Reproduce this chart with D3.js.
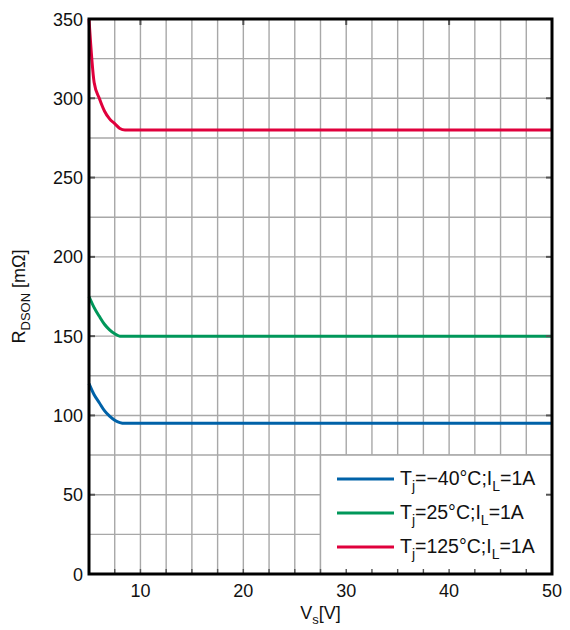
<!DOCTYPE html>
<html>
  <head>
    <meta charset="utf-8">
    <script src="https://d3js.org/d3.v7.min.js"></script>
    <style>
      body { margin: 0; background: #fff; }
      text { font-family: "Liberation Sans", Arial, Helvetica, sans-serif; fill: #111; }
    </style>
  </head>
  <body>
    <script type="text/javascript">
      // supply voltage samples [V]
      var vs = [5, 5.5, 6, 6.5, 7, 7.5, 8, 8.5, 50];
      // RDSON [mOhm] per junction temperature
      var rCold = [120, 113, 108, 103, 99.5, 97, 95.5, 95, 95];
      var rRoom = [175, 168, 162.5, 157.5, 154, 151.5, 150, 150, 150];
      var rHot = [350, 310, 300, 292, 287, 284, 281, 280, 280];
      var temps = ["\u221240\u00B0C", "25\u00B0C", "125\u00B0C"];
      var colors = ["#0062a8", "#00975a", "#e0003c"];
      var xTicks = [10, 20, 30, 40, 50];
      var yTicks = [0, 50, 100, 150, 200, 250, 300, 350];

      var W = 570, H = 630;
      var pL = 89, pR = 552, pT = 19, pB = 574;

      var svg = d3.select("body").append("svg")
        .attr("width", W).attr("height", H);

      var x = d3.scaleLinear().domain([5, 50]).range([pL, pR]);
      var y = d3.scaleLinear().domain([0, 350]).range([pB, pT]);

      // grid every 2.5 V / 25 mOhm
      var xGrid = d3.range(7.5, 50, 2.5);
      var yGrid = d3.range(25, 350, 25);
      svg.append("g").selectAll("line").data(xGrid).enter().append("line")
        .attr("x1", d => x(d)).attr("x2", d => x(d))
        .attr("y1", pT).attr("y2", pB)
        .attr("stroke", "#a8a8a8").attr("stroke-width", 1.4);
      svg.append("g").selectAll("line").data(yGrid).enter().append("line")
        .attr("y1", d => y(d)).attr("y2", d => y(d))
        .attr("x1", pL).attr("x2", pR)
        .attr("stroke", "#a8a8a8").attr("stroke-width", 1.4);

      // curves
      var series = [rCold, rRoom, rHot];
      var line = d3.line()
        .x((d, i) => x(vs[i]))
        .y(d => y(d))
        .curve(d3.curveMonotoneX);
      series.forEach(function (s, k) {
        svg.append("path").datum(s)
          .attr("d", line)
          .attr("fill", "none")
          .attr("stroke", colors[k])
          .attr("stroke-width", 3);
      });

      // legend box sits on the grid (27.5 V .. 50 V, 0 .. 75)
      var lg = svg.append("g");
      lg.append("rect")
        .attr("x", x(27.5)).attr("y", y(75))
        .attr("width", x(50) - x(27.5)).attr("height", y(0) - y(75))
        .attr("fill", "#fff")
        .attr("stroke", "#a8a8a8").attr("stroke-width", 1.4);

      // ticks pointing inward
      var tickCol = "#555";
      svg.append("g").selectAll("line").data(d3.range(7.5, 50, 2.5)).enter().append("line")
        .attr("x1", d => x(d)).attr("x2", d => x(d))
        .attr("y1", pB).attr("y2", pB - 5)
        .attr("stroke", tickCol).attr("stroke-width", 1.4);
      svg.append("g").selectAll("line").data(xTicks).enter().append("line")
        .attr("x1", d => x(d)).attr("x2", d => x(d))
        .attr("y1", pT).attr("y2", pT + 6)
        .attr("stroke", tickCol).attr("stroke-width", 2);
      svg.append("g").selectAll("line").data(yTicks).enter().append("line")
        .attr("y1", d => y(d)).attr("y2", d => y(d))
        .attr("x1", pL).attr("x2", pL + 6)
        .attr("stroke", tickCol).attr("stroke-width", 2);
      svg.append("g").selectAll("line").data(yTicks).enter().append("line")
        .attr("y1", d => y(d)).attr("y2", d => y(d))
        .attr("x1", pR).attr("x2", pR - 6)
        .attr("stroke", tickCol).attr("stroke-width", 2);

      temps.forEach(function (t, k) {
        var ly = 479 + k * 34;
        lg.append("line")
          .attr("x1", 337).attr("x2", 394)
          .attr("y1", ly).attr("y2", ly)
          .attr("stroke", colors[k]).attr("stroke-width", 3);
        var tx = lg.append("text")
          .attr("x", 400).attr("y", ly + 6)
          .attr("font-size", 19.5);
        tx.append("tspan").text("T");
        tx.append("tspan").attr("font-size", 14).attr("dy", 6).text("j");
        tx.append("tspan").attr("dy", -6).text("=" + t + ";I");
        tx.append("tspan").attr("font-size", 14).attr("dy", 6).text("L");
        tx.append("tspan").attr("dy", -6).text("=1A");
      });

      // frame
      svg.append("rect")
        .attr("x", pL).attr("y", pT)
        .attr("width", pR - pL).attr("height", pB - pT)
        .attr("fill", "none").attr("stroke", "#000").attr("stroke-width", 3);

      // tick labels
      svg.append("g").selectAll("text").data(xTicks).enter().append("text")
        .attr("x", d => x(d)).attr("y", 597)
        .attr("text-anchor", "middle").attr("font-size", 18)
        .text(d => d);
      svg.append("g").selectAll("text").data(yTicks).enter().append("text")
        .attr("x", 83).attr("y", d => y(d) + 6.5)
        .attr("text-anchor", "end").attr("font-size", 18)
        .text(d => d);

      // axis titles
      var xt = svg.append("text")
        .attr("x", (pL + pR) / 2).attr("y", 619)
        .attr("text-anchor", "middle").attr("font-size", 18);
      xt.append("tspan").text("V");
      xt.append("tspan").attr("font-size", 13).attr("dy", 5).text("s");
      xt.append("tspan").attr("dy", -5).text("[V]");

      var yt = svg.append("text")
        .attr("transform", "translate(25," + ((pT + pB) / 2) + ") rotate(-90)")
        .attr("text-anchor", "middle").attr("font-size", 18);
      yt.append("tspan").text("R");
      yt.append("tspan").attr("font-size", 13).attr("dy", 5).text("DSON");
      yt.append("tspan").attr("dy", -5).text(" [m\u03A9]");
    </script>
  </body>
</html>
